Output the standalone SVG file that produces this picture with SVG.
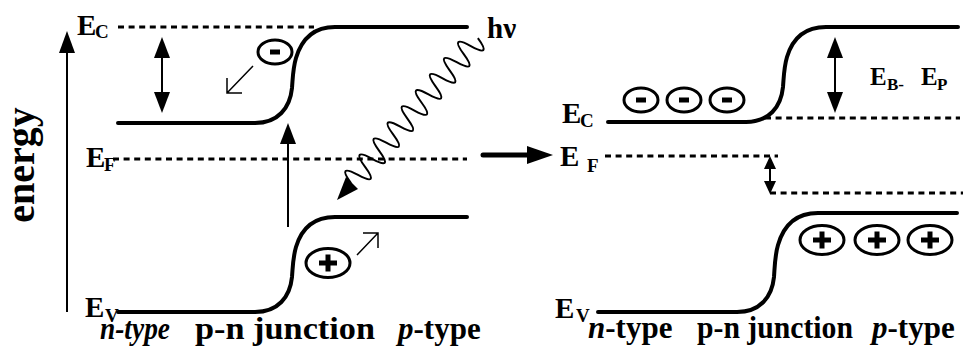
<svg xmlns="http://www.w3.org/2000/svg" width="976" height="354" viewBox="0 0 976 354">
<defs>
<g id="minus"><ellipse cx="0" cy="0" rx="17" ry="12" fill="none" stroke="#000" stroke-width="3"/><rect x="-5" y="-2.5" width="10" height="5" fill="#000"/></g>
<g id="plus"><ellipse cx="0" cy="0" rx="22" ry="14.5" fill="none" stroke="#000" stroke-width="3"/><path d="M-9,0H9M0,-8.5V8.5" stroke="#000" stroke-width="5" fill="none"/></g>
</defs>
<rect width="976" height="354" fill="#fff"/>

<g id="axis">
<line x1="67" y1="312" x2="67" y2="48" stroke="#000" stroke-width="2"/>
<polygon points="67,31 59,53 75,53" fill="#000"/>
<text x="0" y="0" font-family="'Liberation Serif', 'Times New Roman', 'DejaVu Serif', serif" font-weight="bold" font-size="40" text-anchor="middle" transform="translate(34,165) rotate(-90)">energy</text>
</g>

<g id="left-bands" fill="none" stroke="#000" stroke-width="4" stroke-linecap="round">
<path d="M118,123 L255,123 C278,123 290,108 292,88 C293,75 293,68 296,58 C302,38 315,27 335,27 L467,27"/>
<path d="M118,312 L255,312 C278,312 290,297 292,277 C293,264 293,257 296,247 C302,227 315,217 335,217 L467,217"/>
</g>
<g id="left-levels" stroke="#000" stroke-width="3" stroke-dasharray="6 4.6">
<line x1="118" y1="27" x2="314" y2="27"/>
<line x1="113" y1="159" x2="467" y2="159"/>
</g>

<g id="left-labels" font-family="'Liberation Serif', 'Times New Roman', 'DejaVu Serif', serif" font-weight="bold">
<text x="77" y="35" font-size="29">E</text>
<text x="95" y="38" font-size="19">C</text>
<text x="86" y="167" font-size="29">E</text>
<text x="104" y="171" font-size="19">F</text>
<text x="85" y="317" font-size="29">E</text>
<text x="105" y="322" font-size="19">V</text>
<text x="487" y="38" font-size="29">h&#957;</text>
<text x="100" y="339" font-size="31" font-style="italic" textLength="70" lengthAdjust="spacingAndGlyphs">n-type</text>
<text x="195" y="339" font-size="31" textLength="180" lengthAdjust="spacingAndGlyphs">p-n junction</text>
<text x="398" y="339" font-size="31"><tspan font-style="italic">p</tspan>-type</text>
</g>

<g id="left-carriers">
<use href="#minus" x="275" y="52"/>
<use href="#plus" x="328" y="263"/>
<path d="M253,66 L227,93 M227,78 L227,93 L242,93 M357,255 L378,233 M363,233 L378,233 L378,248" fill="none" stroke="#000" stroke-width="1.5"/>
</g>

<g id="connectors" fill="#000">
<line x1="162" y1="52" x2="162" y2="98" stroke="#000" stroke-width="2"/>
<polygon points="162,37 154,58 170,58"/>
<polygon points="162,113 154,92 170,92"/>
<line x1="288" y1="227" x2="288" y2="140" stroke="#000" stroke-width="2"/>
<polygon points="288,123 280,144 296,144"/>
<g transform="translate(351,183) rotate(-48.8)">
<path fill="none" stroke="#000" stroke-width="2" d="M0,0 c3.5,-16 7.2,-16 10.7,0 s7.2,16 10.7,0 s7.2,-16 10.7,0 s7.2,16 10.7,0 s7.2,-16 10.7,0 s7.2,16 10.7,0 s7.2,-16 10.7,0 s7.2,16 10.7,0 s7.2,-16 10.7,0 s7.2,16 10.7,0 s7.2,-16 10.7,0 s7.2,16 10.7,0 s7.2,-16 10.7,0 s7.2,16 10.7,0 s7.2,-16 10.7,0 s7.2,16 10.7,0 s7.2,-16 10.7,0 s7.2,16 10.7,0"/>
</g>
<polygon points="337,200 358,189 346,177"/>
<line x1="483" y1="155" x2="532" y2="155" stroke="#000" stroke-width="5" stroke-linecap="round"/>
<polygon points="553,155 527,146 527,164"/>
<line x1="835" y1="52" x2="835" y2="98" stroke="#000" stroke-width="2"/>
<polygon points="835,37 827,58 843,58"/>
<polygon points="835,113 827,92 843,92"/>
<line x1="770" y1="166" x2="770" y2="184" stroke="#000" stroke-width="2"/>
<polygon points="770,156 764,169 776,169"/>
<polygon points="770,194 764,181 776,181"/>
</g>

<g id="right-bands" fill="none" stroke="#000" stroke-width="4" stroke-linecap="round">
<path d="M608,122 L746,122 C769,122 781,107 783,87 C784,74 784,67 787,57 C793,37 806,27 826,27 L958,27"/>
<path d="M598,312 L737,312 C760,312 772,297 774,277 C775,262 775,255 778,245 C784,224 797,213 818,213 L957,213"/>
</g>
<g id="right-levels" stroke="#000" stroke-width="3" stroke-dasharray="6 4.6">
<line x1="765" y1="118" x2="960" y2="118"/>
<line x1="605" y1="156" x2="778" y2="156"/>
<line x1="770" y1="193" x2="963" y2="193"/>
</g>

<g id="right-labels" font-family="'Liberation Serif', 'Times New Roman', 'DejaVu Serif', serif" font-weight="bold">
<text x="562" y="123" font-size="29">E</text>
<text x="580" y="127" font-size="19">C</text>
<text x="560" y="166" font-size="29">E</text>
<text x="587" y="172" font-size="19">F</text>
<text x="555" y="318" font-size="29">E</text>
<text x="576" y="322" font-size="19">V</text>
<text x="870" y="85" font-size="25">E</text>
<text x="887" y="90" font-size="17">B-</text>
<text x="921" y="85" font-size="25">E</text>
<text x="937" y="90" font-size="17">P</text>
<text x="588" y="338" font-size="31"><tspan font-style="italic">n</tspan>-type</text>
<text x="697" y="338" font-size="31" textLength="156" lengthAdjust="spacingAndGlyphs">p-n junction</text>
<text x="872" y="338" font-size="31"><tspan font-style="italic">p</tspan>-type</text>
</g>

<g id="right-carriers">
<use href="#minus" x="641" y="100"/>
<use href="#minus" x="684" y="100"/>
<use href="#minus" x="727" y="100"/>
<use href="#plus" x="822" y="240"/>
<use href="#plus" x="877" y="240"/>
<use href="#plus" x="930" y="240"/>
</g>
</svg>
